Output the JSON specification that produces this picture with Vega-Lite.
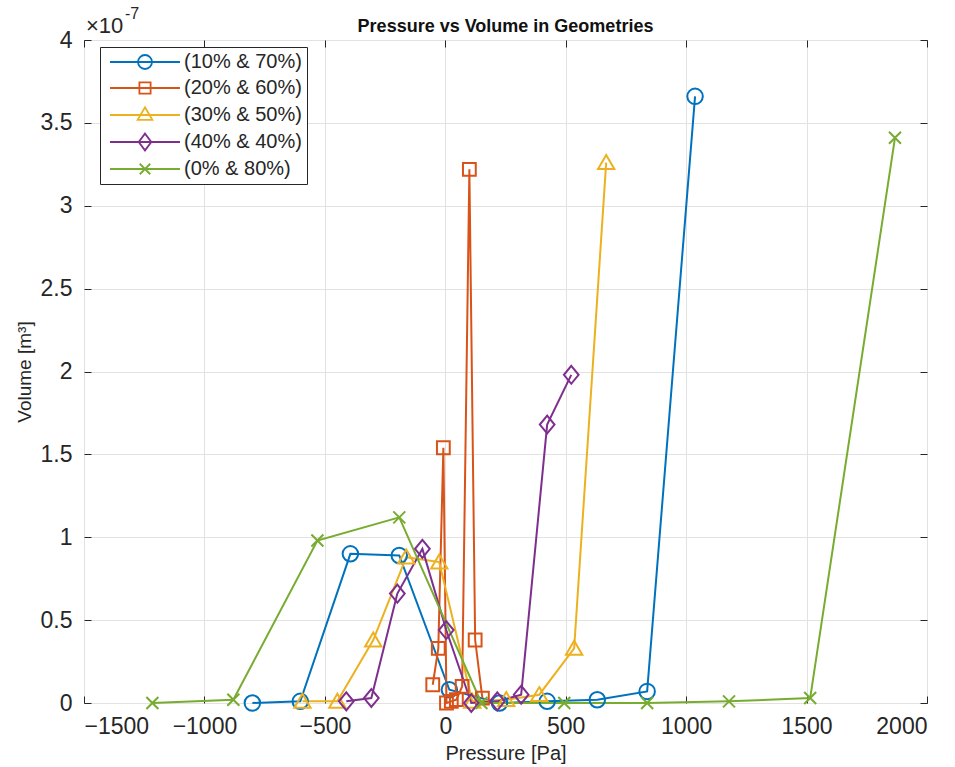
{
  "$schema": "https://vega.github.io/schema/vega-lite/v6.json",
  "width": 843,
  "height": 663,
  "autosize": "none",
  "padding": {"left": 84, "top": 40, "right": 28, "bottom": 64},
  "background": "white",
  "config": {
    "view": {"stroke": "#262626", "strokeWidth": 1},
    "axis": {"labelFont": "Liberation Sans", "titleFont": "Liberation Sans", "labelColor": "#262626", "titleColor": "#262626", "titleFontWeight": "normal", "tickColor": "#262626", "domain": false, "gridColor": "#e2e2e2", "gridWidth": 1},
    "legend": {"title": null, "orient": "none", "legendX": 16, "legendY": 7, "direction": "vertical",
               "labelFont": "Liberation Sans", "labelFontSize": 20, "labelColor": "#262626",
               "symbolSize": 196, "symbolOffset": 30, "labelOffset": 29, "rowPadding": 5, "padding": 5,
               "strokeColor": "#262626", "fillColor": "white", "cornerRadius": 0}
  },
  "datasets": {
    "points": [
      {"series": "(10% & 70%)", "pressure": -801, "volume": 0.0},
      {"series": "(10% & 70%)", "pressure": -602, "volume": 1e-9},
      {"series": "(10% & 70%)", "pressure": -394, "volume": 9.0e-8},
      {"series": "(10% & 70%)", "pressure": -191, "volume": 8.9e-8},
      {"series": "(10% & 70%)", "pressure": 17, "volume": 8e-9},
      {"series": "(10% & 70%)", "pressure": 225, "volume": 0.0},
      {"series": "(10% & 70%)", "pressure": 423, "volume": 1e-9},
      {"series": "(10% & 70%)", "pressure": 631, "volume": 2e-9},
      {"series": "(10% & 70%)", "pressure": 838, "volume": 7e-9},
      {"series": "(10% & 70%)", "pressure": 1037, "volume": 3.66e-7},
      {"series": "(20% & 60%)", "pressure": -52, "volume": 1.1e-8},
      {"series": "(20% & 60%)", "pressure": -29, "volume": 3.3e-8},
      {"series": "(20% & 60%)", "pressure": -8, "volume": 1.54e-7},
      {"series": "(20% & 60%)", "pressure": 5, "volume": 0.0},
      {"series": "(20% & 60%)", "pressure": 25, "volume": 1e-9},
      {"series": "(20% & 60%)", "pressure": 46, "volume": 2e-9},
      {"series": "(20% & 60%)", "pressure": 70, "volume": 1.0e-8},
      {"series": "(20% & 60%)", "pressure": 100, "volume": 3.22e-7},
      {"series": "(20% & 60%)", "pressure": 124, "volume": 3.8e-8},
      {"series": "(20% & 60%)", "pressure": 154, "volume": 3e-9},
      {"series": "(30% & 50%)", "pressure": -593, "volume": 1e-9},
      {"series": "(30% & 50%)", "pressure": -448, "volume": 1e-9},
      {"series": "(30% & 50%)", "pressure": -299, "volume": 3.8e-8},
      {"series": "(30% & 50%)", "pressure": -162, "volume": 8.8e-8},
      {"series": "(30% & 50%)", "pressure": -25, "volume": 8.5e-8},
      {"series": "(30% & 50%)", "pressure": 112, "volume": 1e-9},
      {"series": "(30% & 50%)", "pressure": 253, "volume": 2e-9},
      {"series": "(30% & 50%)", "pressure": 390, "volume": 5e-9},
      {"series": "(30% & 50%)", "pressure": 535, "volume": 3.3e-8},
      {"series": "(30% & 50%)", "pressure": 668, "volume": 3.26e-7},
      {"series": "(40% & 40%)", "pressure": -411, "volume": 1e-9},
      {"series": "(40% & 40%)", "pressure": -307, "volume": 3e-9},
      {"series": "(40% & 40%)", "pressure": -199, "volume": 6.6e-8},
      {"series": "(40% & 40%)", "pressure": -95, "volume": 9.3e-8},
      {"series": "(40% & 40%)", "pressure": 4, "volume": 4.4e-8},
      {"series": "(40% & 40%)", "pressure": 108, "volume": 0.0},
      {"series": "(40% & 40%)", "pressure": 216, "volume": 1e-9},
      {"series": "(40% & 40%)", "pressure": 315, "volume": 5e-9},
      {"series": "(40% & 40%)", "pressure": 423, "volume": 1.68e-7},
      {"series": "(40% & 40%)", "pressure": 523, "volume": 1.98e-7},
      {"series": "(0% & 80%)", "pressure": -1216, "volume": 0.0},
      {"series": "(0% & 80%)", "pressure": -880, "volume": 2e-9},
      {"series": "(0% & 80%)", "pressure": -531, "volume": 9.8e-8},
      {"series": "(0% & 80%)", "pressure": -191, "volume": 1.12e-7},
      {"series": "(0% & 80%)", "pressure": 150, "volume": 0.0},
      {"series": "(0% & 80%)", "pressure": 494, "volume": 0.0},
      {"series": "(0% & 80%)", "pressure": 838, "volume": 0.0},
      {"series": "(0% & 80%)", "pressure": 1178, "volume": 1e-9},
      {"series": "(0% & 80%)", "pressure": 1515, "volume": 3e-9},
      {"series": "(0% & 80%)", "pressure": 1867, "volume": 3.41e-7}
    ],
    "labels": [{"title": "Pressure vs Volume in Geometries", "mult": "×10", "exp": "-7"}]
  },
  "layer": [
    {
      "data": {"name": "points"},
      "mark": {"type": "line", "strokeWidth": 2},
      "encoding": {
        "x": {"field": "pressure", "type": "quantitative", "scale": {"domain": [-1500, 2000], "nice": false, "zero": false},
              "axis": {"orient": "top", "values": [-1500, -1000, -500, 0, 500, 1000, 1500, 2000], "labels": false, "grid": false, "tickSize": -7, "title": null}},
        "y": {"field": "volume", "type": "quantitative", "scale": {"domain": [0, 4e-7], "nice": false},
              "axis": {"orient": "right", "values": [0, 5e-8, 1e-7, 1.5e-7, 2e-7, 2.5e-7, 3e-7, 3.5e-7, 4e-7], "labels": false, "grid": false, "tickSize": -7, "title": null}},
        "color": {"field": "series", "type": "nominal",
                  "scale": {"domain": ["(10% & 70%)", "(20% & 60%)", "(30% & 50%)", "(40% & 40%)", "(0% & 80%)"], "range": ["#0072BD", "#D95319", "#EDB120", "#7E2F8E", "#77AC30"]},
                  "legend": {"encode": {"symbols": {"update": {
                               "shape": {"signal": "datum.value === '(10% & 70%)' ? 'M-5,0H5M1,0A1,1,0,1,1,-1,0A1,1,0,1,1,1,0' : datum.value === '(20% & 60%)' ? 'M-5,0H5M-0.8,-0.8H0.8V0.8H-0.8Z' : datum.value === '(30% & 50%)' ? 'M-5,0H5M0,-1.1L1.05,0.7H-1.05Z' : datum.value === '(40% & 40%)' ? 'M-5,0H5M0,-1.2L0.9,0L0,1.2L-0.9,0Z' : 'M-5,0H5M-0.75,-0.75L0.75,0.75M-0.75,0.75L0.75,-0.75'"},
                               "stroke": {"signal": "scale('color', datum.value)"},
                               "fill": {"value": "transparent"},
                               "strokeWidth": {"value": 1.8},
                               "opacity": {"value": 1}
                             }}}}}
      }
    },
    {
      "data": {"name": "points"},
      "transform": [{"calculate": "'m' + datum.series", "as": "marker"}],
      "mark": {"type": "point", "filled": false, "strokeWidth": 2, "opacity": 1, "size": 256},
      "encoding": {
        "x": {"field": "pressure", "type": "quantitative",
              "axis": {"orient": "bottom", "values": [-1500, -1000, -500, 0, 500, 1000, 1500, 2000], "format": "d", "grid": true, "tickSize": -7, "labelFontSize": 23, "labelPadding": 19, "title": "Pressure [Pa]", "titleFontSize": 20, "titlePadding": 5}},
        "y": {"field": "volume", "type": "quantitative",
              "axis": {"orient": "left", "values": [0, 5e-8, 1e-7, 1.5e-7, 2e-7, 2.5e-7, 3e-7, 3.5e-7, 4e-7], "labelExpr": "format(datum.value * 1e7, '~g')", "grid": true, "tickSize": -7, "labelFontSize": 23, "labelPadding": 19, "title": "Volume [m³]", "titleFontSize": 19, "titlePadding": 6}},
        "color": {"field": "series", "type": "nominal",
                  "legend": {"encode": {"symbols": {"update": {
                               "shape": {"signal": "datum.value === '(10% & 70%)' ? 'M-5,0H5M1,0A1,1,0,1,1,-1,0A1,1,0,1,1,1,0' : datum.value === '(20% & 60%)' ? 'M-5,0H5M-0.8,-0.8H0.8V0.8H-0.8Z' : datum.value === '(30% & 50%)' ? 'M-5,0H5M0,-1.1L1.05,0.7H-1.05Z' : datum.value === '(40% & 40%)' ? 'M-5,0H5M0,-1.2L0.9,0L0,1.2L-0.9,0Z' : 'M-5,0H5M-0.75,-0.75L0.75,0.75M-0.75,0.75L0.75,-0.75'"},
                               "stroke": {"signal": "scale('color', datum.value)"},
                               "fill": {"value": "transparent"},
                               "strokeWidth": {"value": 1.8},
                               "opacity": {"value": 1}
                             }}}}},
        "shape": {"field": "marker", "type": "nominal", "legend": null,
                  "scale": {"domain": ["m(10% & 70%)", "m(20% & 60%)", "m(30% & 50%)", "m(40% & 40%)", "m(0% & 80%)"],
                            "range": ["M0.97,0A0.97,0.97,0,1,1,-0.97,0A0.97,0.97,0,1,1,0.97,0", "M-0.8,-0.8H0.8V0.8H-0.8Z", "M0,-0.95L1.02,0.8H-1.02Z", "M0,-1.12L0.92,0L0,1.12L-0.92,0Z", "M-0.75,-0.75L0.75,0.75M-0.75,0.75L0.75,-0.75"]}}
      }
    },
    {
      "data": {"name": "labels"},
      "mark": {"type": "text", "align": "center", "baseline": "alphabetic", "dy": -8, "fontSize": 18, "fontWeight": "bold", "font": "Liberation Sans", "color": "#111111"},
      "encoding": {"text": {"field": "title"}, "x": {"datum": 250, "type": "quantitative", "axis": null}, "y": {"datum": 4e-7, "type": "quantitative", "axis": null}}
    },
    {
      "data": {"name": "labels"},
      "mark": {"type": "text", "align": "left", "baseline": "alphabetic", "dx": 2, "dy": -7, "fontSize": 22, "font": "Liberation Sans", "color": "#262626"},
      "encoding": {"text": {"field": "mult"}, "x": {"datum": -1500, "type": "quantitative", "axis": null}, "y": {"datum": 4e-7, "type": "quantitative", "axis": null}}
    },
    {
      "data": {"name": "labels"},
      "mark": {"type": "text", "align": "left", "baseline": "alphabetic", "dx": 41, "dy": -21, "fontSize": 16, "font": "Liberation Sans", "color": "#262626"},
      "encoding": {"text": {"field": "exp"}, "x": {"datum": -1500, "type": "quantitative", "axis": null}, "y": {"datum": 4e-7, "type": "quantitative", "axis": null}}
    }
  ],
  "resolve": {"axis": {"x": "independent", "y": "independent"}}
}
